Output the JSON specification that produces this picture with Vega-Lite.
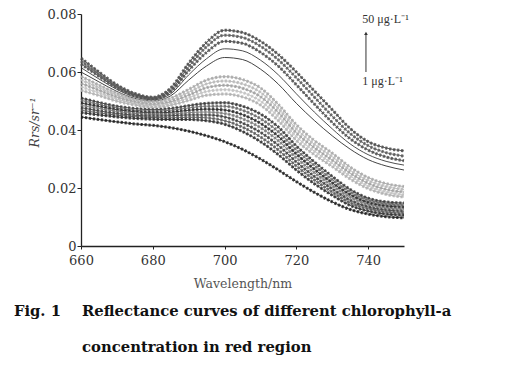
{
  "$schema": "https://vega.github.io/schema/vega-lite/v6.json",
  "autosize": "none",
  "width": 323,
  "height": 232,
  "padding": {"left": 81, "top": 14, "right": 106, "bottom": 119},
  "background": "white",
  "config": {"view": {"stroke": null}},
  "datasets": {
    "spectra": [
      {"w":660,"T1":0.0648,"T2":0.0638,"T3":0.0628,"T4":0.0615,"T5":0.0600,"G1":0.0585,"G2":0.0573,"G3":0.0561,"G4":0.0549,"G5":0.0537,"D1":0.0510,"D2":0.0502,"D3":0.0493,"D4":0.0485,"D5":0.0477,"D6":0.0468,"D7":0.0460,"B":0.0445},
      {"w":665,"T1":0.0600,"T2":0.0592,"T3":0.0585,"T4":0.0576,"T5":0.0566,"G1":0.0555,"G2":0.0546,"G3":0.0537,"G4":0.0528,"G5":0.0519,"D1":0.0495,"D2":0.0488,"D3":0.0481,"D4":0.0474,"D5":0.0466,"D6":0.0459,"D7":0.0452,"B":0.0436},
      {"w":670,"T1":0.0556,"T2":0.0550,"T3":0.0545,"T4":0.0540,"T5":0.0533,"G1":0.0527,"G2":0.0520,"G3":0.0513,"G4":0.0506,"G5":0.0499,"D1":0.0482,"D2":0.0476,"D3":0.0470,"D4":0.0464,"D5":0.0457,"D6":0.0451,"D7":0.0445,"B":0.0428},
      {"w":675,"T1":0.0526,"T2":0.0522,"T3":0.0518,"T4":0.0514,"T5":0.0509,"G1":0.0506,"G2":0.0501,"G3":0.0496,"G4":0.0491,"G5":0.0486,"D1":0.0474,"D2":0.0468,"D3":0.0463,"D4":0.0457,"D5":0.0451,"D6":0.0446,"D7":0.0440,"B":0.0421},
      {"w":680,"T1":0.0513,"T2":0.0510,"T3":0.0507,"T4":0.0504,"T5":0.0500,"G1":0.0498,"G2":0.0493,"G3":0.0488,"G4":0.0483,"G5":0.0478,"D1":0.0470,"D2":0.0465,"D3":0.0459,"D4":0.0454,"D5":0.0448,"D6":0.0443,"D7":0.0437,"B":0.0416},
      {"w":685,"T1":0.0545,"T2":0.0538,"T3":0.0532,"T4":0.0525,"T5":0.0518,"G1":0.0510,"G2":0.0503,"G3":0.0497,"G4":0.0491,"G5":0.0485,"D1":0.0474,"D2":0.0468,"D3":0.0461,"D4":0.0455,"D5":0.0449,"D6":0.0442,"D7":0.0436,"B":0.0408},
      {"w":690,"T1":0.0630,"T2":0.0618,"T3":0.0605,"T4":0.0590,"T5":0.0572,"G1":0.0540,"G2":0.0530,"G3":0.0520,"G4":0.0511,"G5":0.0502,"D1":0.0484,"D2":0.0476,"D3":0.0468,"D4":0.0460,"D5":0.0452,"D6":0.0444,"D7":0.0436,"B":0.0396},
      {"w":695,"T1":0.0702,"T2":0.0687,"T3":0.0668,"T4":0.0646,"T5":0.0621,"G1":0.0572,"G2":0.0559,"G3":0.0546,"G4":0.0533,"G5":0.0520,"D1":0.0492,"D2":0.0482,"D3":0.0472,"D4":0.0462,"D5":0.0452,"D6":0.0442,"D7":0.0432,"B":0.0380},
      {"w":700,"T1":0.0744,"T2":0.0727,"T3":0.0706,"T4":0.0680,"T5":0.0650,"G1":0.0584,"G2":0.0569,"G3":0.0554,"G4":0.0539,"G5":0.0524,"D1":0.0494,"D2":0.0482,"D3":0.0469,"D4":0.0457,"D5":0.0445,"D6":0.0432,"D7":0.0420,"B":0.0360},
      {"w":705,"T1":0.0736,"T2":0.0719,"T3":0.0699,"T4":0.0673,"T5":0.0643,"G1":0.0574,"G2":0.0559,"G3":0.0544,"G4":0.0529,"G5":0.0514,"D1":0.0482,"D2":0.0468,"D3":0.0453,"D4":0.0439,"D5":0.0424,"D6":0.0410,"D7":0.0395,"B":0.0333},
      {"w":710,"T1":0.0706,"T2":0.0689,"T3":0.0668,"T4":0.0641,"T5":0.0610,"G1":0.0545,"G2":0.0530,"G3":0.0515,"G4":0.0500,"G5":0.0486,"D1":0.0455,"D2":0.0439,"D3":0.0423,"D4":0.0408,"D5":0.0392,"D6":0.0376,"D7":0.0360,"B":0.0300},
      {"w":715,"T1":0.0660,"T2":0.0642,"T3":0.0620,"T4":0.0590,"T5":0.0558,"G1":0.0488,"G2":0.0474,"G3":0.0460,"G4":0.0446,"G5":0.0432,"D1":0.0410,"D2":0.0394,"D3":0.0378,"D4":0.0363,"D5":0.0347,"D6":0.0331,"D7":0.0315,"B":0.0262},
      {"w":720,"T1":0.0600,"T2":0.0580,"T3":0.0556,"T4":0.0525,"T5":0.0492,"G1":0.0418,"G2":0.0404,"G3":0.0390,"G4":0.0377,"G5":0.0364,"D1":0.0345,"D2":0.0331,"D3":0.0317,"D4":0.0304,"D5":0.0290,"D6":0.0276,"D7":0.0262,"B":0.0222},
      {"w":725,"T1":0.0535,"T2":0.0514,"T3":0.0490,"T4":0.0462,"T5":0.0433,"G1":0.0364,"G2":0.0351,"G3":0.0339,"G4":0.0327,"G5":0.0315,"D1":0.0290,"D2":0.0278,"D3":0.0265,"D4":0.0253,"D5":0.0240,"D6":0.0228,"D7":0.0215,"B":0.0185},
      {"w":730,"T1":0.0470,"T2":0.0448,"T3":0.0426,"T4":0.0404,"T5":0.0380,"G1":0.0320,"G2":0.0308,"G3":0.0296,"G4":0.0285,"G5":0.0274,"D1":0.0240,"D2":0.0229,"D3":0.0218,"D4":0.0208,"D5":0.0197,"D6":0.0186,"D7":0.0175,"B":0.0152},
      {"w":735,"T1":0.0405,"T2":0.0388,"T3":0.0370,"T4":0.0352,"T5":0.0334,"G1":0.0272,"G2":0.0261,"G3":0.0251,"G4":0.0241,"G5":0.0231,"D1":0.0195,"D2":0.0186,"D3":0.0177,"D4":0.0168,"D5":0.0158,"D6":0.0149,"D7":0.0140,"B":0.0126},
      {"w":740,"T1":0.0360,"T2":0.0346,"T3":0.0331,"T4":0.0315,"T5":0.0298,"G1":0.0236,"G2":0.0226,"G3":0.0216,"G4":0.0207,"G5":0.0198,"D1":0.0165,"D2":0.0158,"D3":0.0150,"D4":0.0143,"D5":0.0135,"D6":0.0128,"D7":0.0120,"B":0.0110},
      {"w":745,"T1":0.0338,"T2":0.0322,"T3":0.0307,"T4":0.0292,"T5":0.0276,"G1":0.0215,"G2":0.0205,"G3":0.0195,"G4":0.0186,"G5":0.0178,"D1":0.0152,"D2":0.0145,"D3":0.0138,"D4":0.0131,"D5":0.0124,"D6":0.0117,"D7":0.0110,"B":0.0101},
      {"w":750,"T1":0.0328,"T2":0.0310,"T3":0.0294,"T4":0.0279,"T5":0.0262,"G1":0.0205,"G2":0.0195,"G3":0.0186,"G4":0.0177,"G5":0.0169,"D1":0.0148,"D2":0.0141,"D3":0.0134,"D4":0.0127,"D5":0.0120,"D6":0.0113,"D7":0.0106,"B":0.0097}
    ],
    "caption": [
      {"x": 641.3, "y": -0.0241, "t": "Fig. 1"},
      {"x": 660.3, "y": -0.0241, "t": "Reflectance curves of different chlorophyll-a"},
      {"x": 660.3, "y": -0.0366, "t": "concentration in red region"}
    ]
  },
  "layer": [
    {
      "data": {"name": "spectra"},
      "transform": [{"fold": ["T1","T2","T3","T4","T5","G1","G2","G3","G4","G5","D1","D2","D3","D4","D5","D6","D7","B"], "as": ["curve", "r"]}],
      "mark": {"type": "line", "strokeWidth": 0.9, "interpolate": "monotone"},
      "encoding": {
        "x": {"field": "w", "type": "quantitative", "scale": {"domain": [660, 750], "nice": false, "zero": false},
          "axis": {"values": [660, 680, 700, 720, 740], "title": "Wavelength/nm", "grid": false, "domainColor": "#222", "domainWidth": 1.3, "tickColor": "#222", "tickSize": 3, "labelPadding": 5,
            "labelFont": "DejaVu Serif", "labelFontSize": 13, "labelColor": "#333", "labelFlush": false,
            "titleFont": "DejaVu Serif", "titleFontSize": 12.5, "titleFontWeight": "normal", "titleColor": "#555", "titleY": 41, "titleBaseline": "alphabetic"}},
        "y": {"field": "r", "type": "quantitative", "scale": {"domain": [0, 0.08], "nice": false},
          "axis": {"values": [0, 0.02, 0.04, 0.06, 0.08], "title": "Rrs/sr⁻¹", "grid": false, "domainColor": "#222", "domainWidth": 1.3, "tickColor": "#222", "tickSize": 4, "labelPadding": 1,
            "labelExpr": "datum.value == 0 ? '0' : format(datum.value, '.2f')",
            "labelFont": "DejaVu Serif", "labelFontSize": 13, "labelColor": "#333", "labelFlush": false,
            "titleFont": "DejaVu Serif", "titleFontSize": 12.5, "titleFontWeight": "normal", "titleFontStyle": "italic", "titleColor": "#444",
            "titleX": -47, "titleY": 108, "titleAngle": 270, "titleAlign": "center", "titleBaseline": "middle"}},
        "color": {"field": "curve", "type": "nominal", "legend": null,
          "scale": {"domain": ["T1","T2","T3","T4","T5","G1","G2","G3","G4","G5","D1","D2","D3","D4","D5","D6","D7","B"],
                    "range": ["#4a4a4a","#5a5a5a","#505050","#3a3a3a","#2e2e2e","#a8a8a8","#b8b8b8","#a0a0a0","#c2c2c2","#b0b0b0","#3a3a3a","#6a6a6a","#2a2a2a","#7a7a7a","#404040","#5c5c5c","#303030","#1e1e1e"]}}
      }
    },
    {
      "data": {"name": "spectra"},
      "transform": [{"fold": ["T1","T2","T3","G1","G2","G3","G4","G5","D1","D2","D3","D4","D5","D6","D7","B"], "as": ["curve", "r"]}],
      "mark": {"type": "line", "strokeWidth": 3, "strokeDash": [2.2, 1.8], "interpolate": "monotone", "opacity": 0.85},
      "encoding": {
        "x": {"field": "w", "type": "quantitative"},
        "y": {"field": "r", "type": "quantitative"},
        "color": {"field": "curve", "type": "nominal", "legend": null}
      }
    },
    {
      "data": {"values": [{}]},
      "mark": {"type": "rule", "color": "#333", "strokeWidth": 1},
      "encoding": {"x": {"datum": 739.4}, "y": {"datum": 0.0600}, "y2": {"datum": 0.0732}}
    },
    {
      "data": {"values": [{}]},
      "mark": {"type": "point", "shape": "triangle-up", "filled": true, "color": "#333", "size": 14, "opacity": 1},
      "encoding": {"x": {"datum": 739.4}, "y": {"datum": 0.0733}}
    },
    {
      "data": {"values": [{}]},
      "mark": {"type": "text", "align": "left", "baseline": "middle", "font": "Liberation Serif", "fontSize": 12, "color": "#333"},
      "encoding": {"x": {"datum": 738.4}, "y": {"datum": 0.0783}, "text": {"value": "50 μg·L⁻¹"}}
    },
    {
      "data": {"values": [{}]},
      "mark": {"type": "text", "align": "left", "baseline": "middle", "font": "Liberation Serif", "fontSize": 12, "color": "#333"},
      "encoding": {"x": {"datum": 738.4}, "y": {"datum": 0.0569}, "text": {"value": "1 μg·L⁻¹"}}
    },
    {
      "data": {"name": "caption"},
      "mark": {"type": "text", "align": "left", "baseline": "alphabetic", "font": "DejaVu Serif", "fontSize": 14.8, "fontWeight": "bold", "color": "#111"},
      "encoding": {"x": {"field": "x", "type": "quantitative"}, "y": {"field": "y", "type": "quantitative"}, "text": {"field": "t"}}
    }
  ]
}
